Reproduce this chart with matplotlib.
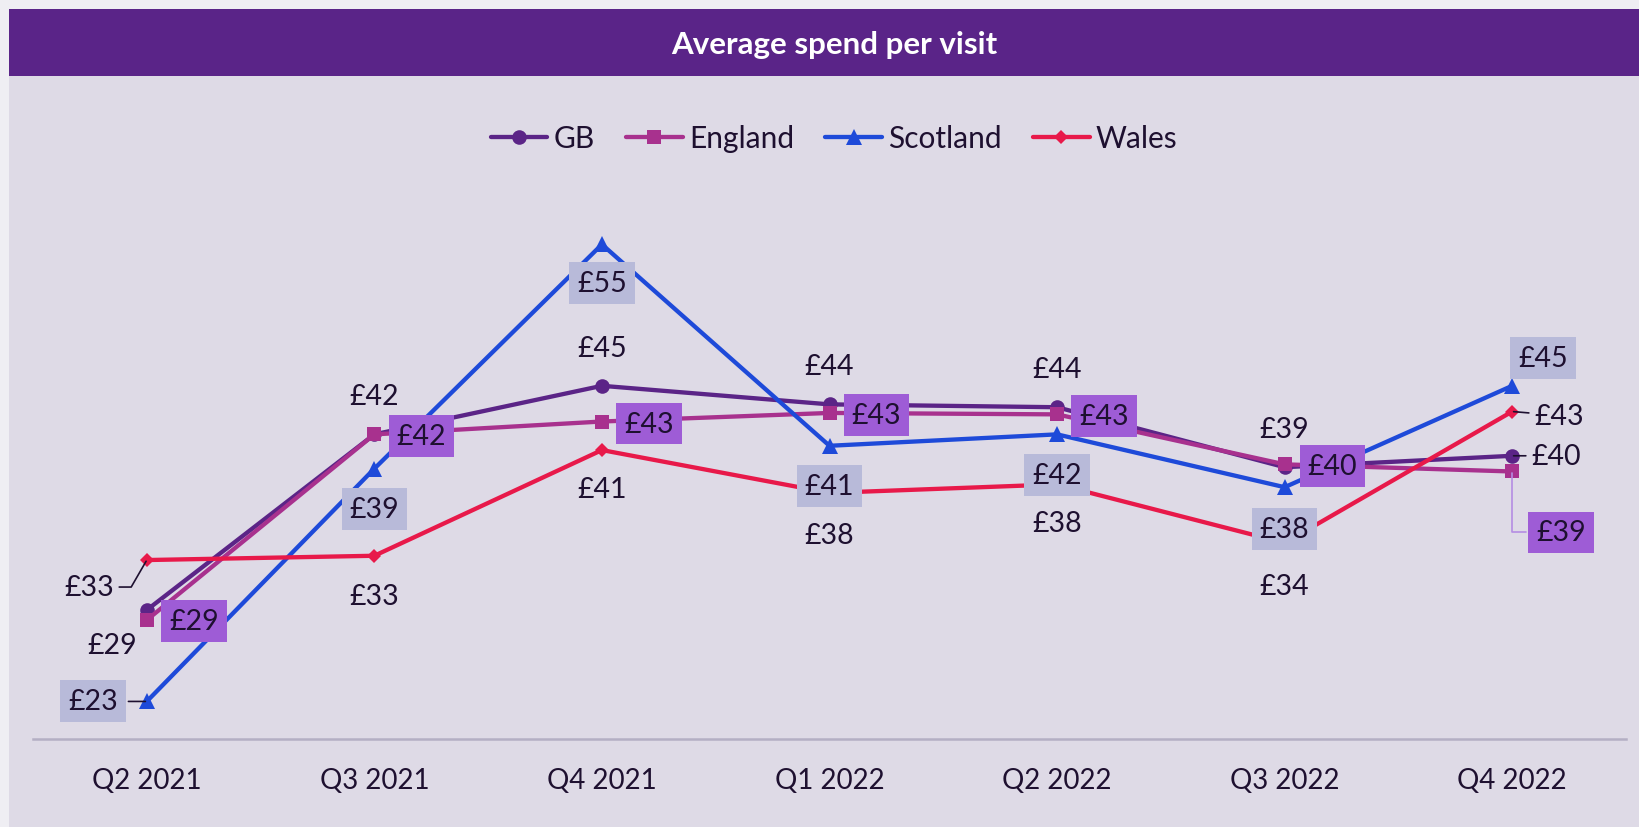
import matplotlib
matplotlib.use("Agg")
import matplotlib.pyplot as plt
from matplotlib.patches import Rectangle
from matplotlib.lines import Line2D

plt.rcParams['font.family'] = ['Lato', 'DejaVu Sans']

# ---------------- data ----------------
quarters = ["Q2 2021", "Q3 2021", "Q4 2021", "Q1 2022", "Q2 2022", "Q3 2022", "Q4 2022"]
gb = [29.4, 41.7, 45.1, 43.8, 43.6, 39.4, 40.2]
england = [28.7, 41.7, 42.6, 43.2, 43.1, 39.6, 39.1]
scotland = [23.0, 39.3, 55.0, 40.9, 41.7, 38.0, 45.1]
wales = [32.9, 33.2, 40.6, 37.6, 38.2, 34.1, 43.3]
series_names = ["GB", "England", "Scotland", "Wales"]

# ---------------- style ----------------
W, H = 1639, 828
TXT = '#1E1030'
colors = {"GB": '#5B2487', "England": '#A8318E', "Scotland": '#1E4AD9', "Wales": '#E8194A'}
markers = {"GB": ('o', 10.5), "England": ('s', 10.5), "Scotland": ('^', 12), "Wales": ('D', 7.5)}
boxes = {"GB": None, "England": '#9E5CD6', "Scotland": '#B8BAD9', "Wales": None}

# label offsets in pixels (dx, dy), optional leader: (color, connectionstyle)
offsets = {
    "GB": [(-35, -35, None), (0, 38, None), (0, 38, None), (0, 38, None), (0, 38, None), (0, 38, None),
           (44, 0, (TXT, 'arc3'))],
    "England": [(47, -1, None), (47, -2, None), (47, -2, None), (47, -2, None), (47, -2, None), (48, -2, None),
                (49, -61, ('#B58DE3', 'angle,angleA=0,angleB=90,rad=0'))],
    "Scotland": [(-54, 0, (TXT, 'arc3')), (0, -40, None), (0, -39, None), (0, -40, None), (0, -41, None),
                 (0, -42, None), (31, 28, None)],
    "Wales": [(-58, -27, (TXT, 'angle,angleA=0,angleB=60,rad=0')), (0, -40, None), (0, -39, None),
              (0, -42, None), (0, -39, None), (0, -43, None), (47, -4, (TXT, 'arc3'))],
}

def fx(px):
    return px / W

def fy(py):
    return 1 - py / H

fig = plt.figure(figsize=(W / 100, H / 100), dpi=100)
fig.patch.set_facecolor('#EFEEF3')
fig.add_artist(Rectangle((fx(9), 0), 1 - fx(9), fy(77), transform=fig.transFigure,
                         facecolor='#DEDAE6', edgecolor='none', zorder=0))
fig.add_artist(Rectangle((fx(9), fy(77)), 1 - fx(9), fy(10) - fy(77), transform=fig.transFigure,
                         facecolor='#5A2488', edgecolor='none', zorder=0))
fig.text(fx(834), fy(45), 'Average spend per visit', ha='center', va='center',
         color='white', fontsize=22.5, fontweight='bold')

ax = fig.add_axes([fx(33), fy(740), fx(1626) - fx(33), fy(174) - fy(740)])
ax.set_facecolor('none')

data = {"GB": gb, "England": england, "Scotland": scotland, "Wales": wales}
x = list(range(len(quarters)))
handles = []
for z, name in enumerate(series_names):
    m, ms = markers[name]
    ln, = ax.plot(x, data[name], color=colors[name], lw=3.1, marker=m, markersize=ms,
                  markeredgewidth=0, zorder=3 + z, label=name, solid_capstyle='round')
    handles.append(ln)

for name in series_names:
    for i, v in enumerate(data[name]):
        dx, dy, leader = offsets[name][i]
        kw = {}
        if boxes[name]:
            kw['bbox'] = dict(boxstyle='square,pad=0.28', facecolor=boxes[name], edgecolor='none')
        if leader:
            kw['arrowprops'] = dict(arrowstyle='-', color=leader[0], lw=1.2, shrinkA=2, shrinkB=1,
                                    connectionstyle=leader[1])
        ax.annotate(f"£{round(v)}", xy=(i, v), xytext=(dx, dy), textcoords='offset pixels',
                    ha='center', va='center', fontsize=20.5, color=TXT, zorder=10, **kw)

ax.set_xlim(-0.5, 6.5)
ax.set_ylim(20.37, 60.0)
ax.set_xticks(x)
ax.set_xticklabels(quarters, fontsize=20, color=TXT)
ax.tick_params(axis='x', length=0, pad=20)
ax.set_yticks([])
for s in ['top', 'left', 'right']:
    ax.spines[s].set_visible(False)
ax.spines['bottom'].set_color('#B4AFC4')
ax.spines['bottom'].set_linewidth(1.8)

fig.legend(handles=handles, labels=series_names, loc='center', bbox_to_anchor=(fx(834), fy(139)),
           ncol=4, frameon=False, fontsize=21.5, handlelength=1.9, handletextpad=0.2,
           columnspacing=1.05, labelcolor=TXT)

fig.savefig('out.png', dpi=100, facecolor=fig.get_facecolor())
